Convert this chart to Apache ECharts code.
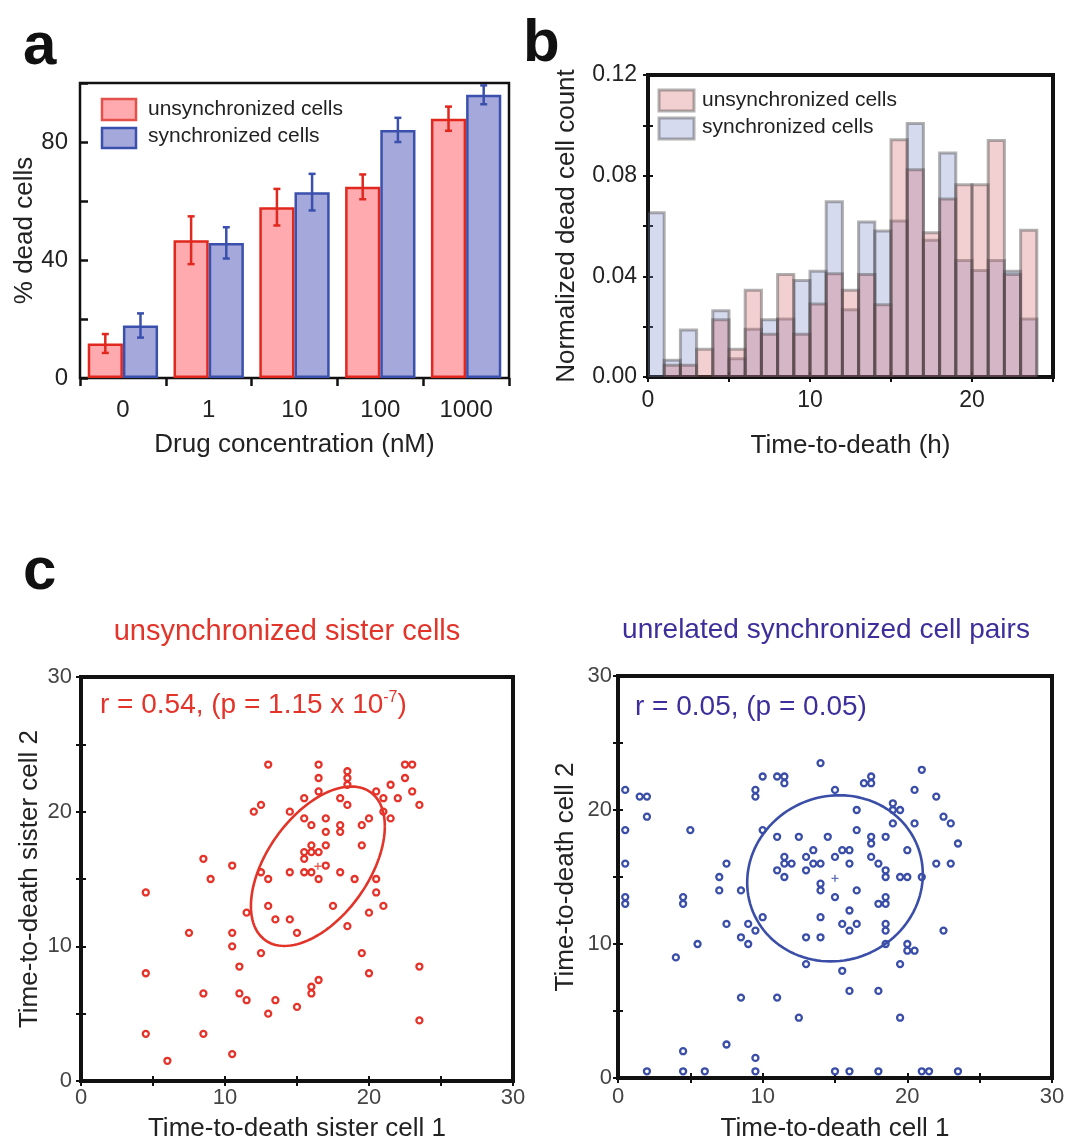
<!DOCTYPE html>
<html>
<head>
<meta charset="utf-8">
<script src="https://cdn.jsdelivr.net/npm/echarts@6/dist/echarts.min.js"></script>
<style>
  html, body { margin: 0; background: #fff; }
  #main { width: 1069px; height: 1141px; }
</style>
</head>
<body>
<div id="main"></div>
<script>
// ---- panel a: % dead cells vs drug concentration
const concentrations = ['0', '1', '10', '100', '1000'];
const unsyncDead = [11.7, 46.7, 57.9, 64.8, 87.9];
const unsyncErr = [3.2, 8.1, 6.2, 4.2, 4.1];
const syncDead = [17.8, 45.8, 63.0, 84.1, 96.0];
const syncErr = [4.1, 5.3, 6.2, 4.1, 3.2];

// ---- panel b: time-to-death histograms (1 h bins)
const binStarts = [0, 1, 2, 3, 4, 5, 6, 7, 8, 9, 10, 11, 12, 13, 14, 15, 16, 17, 18, 19, 20, 21, 22, 23];
const unsyncHist = [0, 0.0047, 0.0047, 0.011, 0.0227, 0.011, 0.0345, 0.017, 0.0407, 0.017, 0.029, 0.041,
  0.0345, 0.0407, 0.0287, 0.0943, 0.0824, 0.0573, 0.0707, 0.0764, 0.0764, 0.094, 0.0407, 0.0583];
const syncHist = [0.0653, 0.0067, 0.0187, 0, 0.0263, 0.0073, 0.019, 0.0227, 0.023, 0.0383, 0.042, 0.0696,
  0.0267, 0.0616, 0.058, 0.062, 0.1007, 0.0543, 0.089, 0.0463, 0.0423, 0.0463, 0.042, 0.023];

// ---- panel c: sister cells vs unrelated pairs
const sisterPairs = [
  [13, 23.5], [16.5, 23.5], [22.5, 23.5], [23, 23.5], [18.5, 23], [18.5, 22.5], [16.5, 22.5], [22.5, 22.5],
  [18.5, 22], [21.5, 22], [16.5, 21.5], [20.5, 21.5], [23, 21.5], [15.5, 21], [18, 21], [21, 21], [22, 21],
  [12.5, 20.5], [18.5, 20.5], [23.5, 20.5], [12, 20], [14.5, 20], [21, 20], [15.5, 19.5], [17, 19.5],
  [20, 19.5], [21.5, 19.5], [16, 19], [18, 19], [19.5, 19], [17, 18.5], [18, 18.5], [16, 17.5], [17, 17.5],
  [19.5, 17.5], [15.5, 17], [16, 17], [16.5, 17], [15.5, 16.5], [8.5, 16.5], [10.5, 16], [17, 16],
  [12.5, 15.5], [14.5, 15.5], [15.5, 15.5], [16, 15.5], [18, 15.5], [9, 15], [13, 15], [16.5, 15], [19, 15],
  [20.5, 15], [4.5, 14], [20.5, 14], [13, 13], [17.5, 13], [21, 13], [11.5, 12.5], [20, 12.5], [13.5, 12],
  [14.5, 12], [18.5, 11.5], [7.5, 11], [10.5, 11], [15, 11], [10.5, 10], [12.5, 9.5], [19.5, 9.5], [11, 8.5],
  [23.5, 8.5], [4.5, 8], [20, 8], [16.5, 7.5], [16, 7], [8.5, 6.5], [11, 6.5], [16, 6.5], [11.5, 6], [13.5, 6],
  [15, 5.5], [13, 5], [23.5, 4.5], [4.5, 3.5], [8.5, 3.5], [10.5, 2], [6, 1.5]
];
const unrelatedPairs = [
  [14, 23.5], [21, 23], [10, 22.5], [11, 22.5], [11.5, 22.5], [17.5, 22.5], [11.5, 22], [17, 22], [17.5, 22],
  [0.5, 21.5], [9.5, 21.5], [15, 21.5], [20.5, 21.5], [1.5, 21], [2, 21], [9.5, 21], [22, 21], [19, 20.5],
  [16.5, 20], [19, 20], [19.5, 20], [2, 19.5], [22.5, 19.5], [19, 19], [20.5, 19], [23, 19], [0.5, 18.5],
  [5, 18.5], [10, 18.5], [16.5, 18.5], [11, 18], [12.5, 18], [14.5, 18], [17.5, 18], [18.5, 18], [17.5, 17.5],
  [23.5, 17.5], [13.5, 17], [15.5, 17], [16, 17], [20, 17], [11.5, 16.5], [13, 16.5], [15, 16.5], [17.5, 16.5],
  [0.5, 16], [7.5, 16], [11.5, 16], [12, 16], [13.5, 16], [14, 16], [16, 16], [18, 16], [22, 16], [23, 16],
  [11, 15.5], [13, 15.5], [18.5, 15.5], [7, 15], [11.5, 15], [18.5, 15], [19.5, 15], [20, 15], [21, 15],
  [14, 14.5], [7, 14], [8.5, 14], [14, 14], [16.5, 14], [0.5, 13.5], [4.5, 13.5], [15, 13.5], [18.5, 13.5],
  [0.5, 13], [4.5, 13], [18, 13], [18.5, 13], [16, 12.5], [10, 12], [14, 12], [7.5, 11.5], [9, 11.5],
  [15.5, 11.5], [16.5, 11.5], [18.5, 11.5], [9.5, 11], [16, 11], [18.5, 11], [22.5, 11], [8.5, 10.5],
  [13, 10.5], [14, 10.5], [5.5, 10], [9, 10], [18.5, 10], [20, 10], [20, 9.5], [20.5, 9.5], [4, 9], [13, 8.5],
  [19.5, 8.5], [15.5, 8], [16, 6.5], [18, 6.5], [8.5, 6], [11, 6], [12.5, 4.5], [19.5, 4.5], [7.5, 2.5],
  [4.5, 2], [9.5, 1.5], [2, 0.5], [4.5, 0.5], [6, 0.5], [9.5, 0.5], [15, 0.5], [16, 0.5], [18, 0.5], [21, 0.5],
  [21.5, 0.5], [23.5, 0.5]
];
// covariance ellipses: centre, half-extent along x and y, correlation
const sisterCenter = [16.45, 15.95];
const sisterHalf = [4.65, 5.92];
const sisterRho = 0.5;
const unrelatedCenter = [15.0, 14.9];
const unrelatedHalf = [6.07, 6.2];
const unrelatedRho = 0.05;

const RED = '#e0281e';
const BLUE = '#3a50ac';
const TXT_RED = '#e3342a';
const TXT_BLUE = '#3d2f9b';
const FONT = '"Liberation Sans", Arial, Helvetica, sans-serif';

function ellipsePoints(c, half, rho) {
  const phi = Math.acos(rho);
  const pts = [];
  for (let k = 0; k <= 120; k++) {
    const t = (k / 120) * 2 * Math.PI;
    pts.push([c[0] + half[0] * Math.cos(t), c[1] + half[1] * Math.cos(t - phi)]);
  }
  return pts;
}

const chart = echarts.init(document.getElementById('main'), null, { renderer: 'canvas' });

const gapA = 0.18;
function errRender(side, color) {
  return function (params, api) {
    const i = api.value(0);
    const v = api.value(1);
    const e = api.value(2);
    const band = api.size([1, 0])[0];
    const off = side * band * (1 - gapA) / 4;
    const top = api.coord([i, v + e]);
    const bot = api.coord([i, v - e]);
    const x = top[0] + off;
    const st = { stroke: color, lineWidth: 2.5 };
    return {
      type: 'group',
      children: [
        { type: 'line', shape: { x1: x, y1: top[1], x2: x, y2: bot[1] }, style: st },
        { type: 'line', shape: { x1: x - 3.5, y1: top[1], x2: x + 3.5, y2: top[1] }, style: st },
        { type: 'line', shape: { x1: x - 3.5, y1: bot[1], x2: x + 3.5, y2: bot[1] }, style: st }
      ]
    };
  };
}

function histRender(fill) {
  return function (params, api) {
    const h = api.value(1);
    if (!h) return null;
    const x0 = api.value(0);
    const p0 = api.coord([x0, h]);
    const p1 = api.coord([x0 + 1, 0]);
    return {
      type: 'rect',
      shape: { x: p0[0], y: p0[1], width: p1[0] - p0[0], height: p1[1] - p0[1] },
      style: { fill: fill, stroke: 'rgba(60,60,60,0.4)', lineWidth: 3 }
    };
  };
}

const labelA = { fontFamily: FONT, fontSize: 24, color: '#222' };
const nameA = { fontFamily: FONT, fontSize: 26, color: '#222' };
const labelC = { fontFamily: FONT, fontSize: 22, color: '#444' };

function sideAxis(grid, pos, min, max, interval) {
  return {
    type: 'value', gridIndex: grid, position: pos, min: min, max: max, interval: interval,
    axisLine: { show: false }, splitLine: { show: false }, axisLabel: { show: false },
    axisTick: { show: true, inside: true, length: 5, lineStyle: { color: '#111', width: 2 } }
  };
}
function mainValueAxis(grid, pos, min, max, interval, fmt, name, gap, margin, label, fsName) {
  return {
    type: 'value', gridIndex: grid, position: pos, min: min, max: max, interval: interval,
    axisLine: { show: false }, splitLine: { show: false },
    axisTick: { show: true, inside: true, length: 5, lineStyle: { color: '#111', width: 2 } },
    axisLabel: Object.assign({ formatter: fmt, margin: margin, showMinLabel: true, showMaxLabel: true }, label),
    name: name, nameLocation: 'middle', nameGap: gap, nameTextStyle: fsName
  };
}
const tens = v => (Math.round(v) % 10 === 0 ? String(v) : '');

const option = {
  animation: false,
  backgroundColor: '#fff',
  textStyle: { fontFamily: FONT },
  grid: [
    { left: 80, top: 83, width: 429, height: 295, show: true, borderColor: '#111', borderWidth: 2.5, backgroundColor: 'transparent', outerBoundsMode: 'none' },
    { left: 648, top: 75, width: 405, height: 302, show: true, borderColor: '#111', borderWidth: 4, backgroundColor: 'transparent', outerBoundsMode: 'none' },
    { left: 81, top: 677, width: 432, height: 404, show: true, borderColor: '#111', borderWidth: 4, backgroundColor: 'transparent', outerBoundsMode: 'none' },
    { left: 618, top: 676, width: 434, height: 402, show: true, borderColor: '#111', borderWidth: 4, backgroundColor: 'transparent', outerBoundsMode: 'none' }
  ],
  xAxis: [
    {
      type: 'category', gridIndex: 0, data: concentrations,
      axisLine: { show: false },
      axisTick: { show: true, inside: false, length: 8, lineStyle: { color: '#111', width: 2.5 } },
      axisLabel: Object.assign({ margin: 20 }, labelA),
      name: 'Drug concentration (nM)', nameLocation: 'middle', nameGap: 54, nameTextStyle: nameA
    },
    mainValueAxis(1, 'bottom', 0, 25, 5, tens, 'Time-to-death (h)', 56, 12, Object.assign({}, labelA, { fontSize: 23 }), nameA),
    sideAxis(1, 'top', 0, 25, 5),
    mainValueAxis(2, 'bottom', 0, 30, 5, tens, 'Time-to-death sister cell 1', 35, 6, labelC, nameA),
    sideAxis(2, 'top', 0, 30, 5),
    mainValueAxis(3, 'bottom', 0, 30, 5, tens, 'Time-to-death cell 1', 38, 8, labelC, nameA),
    sideAxis(3, 'top', 0, 30, 5)
  ],
  yAxis: [
    {
      type: 'value', gridIndex: 0, min: 0, max: 100, interval: 20,
      axisLine: { show: false }, splitLine: { show: false },
      axisTick: { show: true, inside: true, length: 8, lineStyle: { color: '#111', width: 2.5 } },
      axisLabel: Object.assign({ margin: 12, formatter: v => (v % 40 === 0 && v < 100 ? String(v) : '') }, labelA),
      name: '% dead cells', nameLocation: 'middle', nameGap: 42, nameTextStyle: nameA
    },
    mainValueAxis(1, 'left', 0, 0.12, 0.02,
      v => (Math.round(v * 100) % 4 === 0 ? v.toFixed(2) : ''),
      'Normalized dead cell count', 68, 11, Object.assign({}, labelA, { fontSize: 23 }), nameA),
    sideAxis(1, 'right', 0, 0.12, 0.02),
    mainValueAxis(2, 'left', 0, 30, 5, tens, 'Time-to-death sister cell 2', 38, 9, labelC, nameA),
    sideAxis(2, 'right', 0, 30, 5),
    mainValueAxis(3, 'left', 0, 30, 5, tens, 'Time-to-death cell 2', 39, 6, labelC, nameA),
    sideAxis(3, 'right', 0, 30, 5)
  ],
  series: [
    // a
    {
      type: 'bar', name: 'unsynchronized cells', xAxisIndex: 0, yAxisIndex: 0, data: unsyncDead,
      barGap: '0%', barCategoryGap: '18%',
      itemStyle: { color: '#ffaaaf', borderColor: RED, borderWidth: 2.5 }
    },
    {
      type: 'bar', name: 'synchronized cells', xAxisIndex: 0, yAxisIndex: 0, data: syncDead,
      barGap: '0%', barCategoryGap: '18%',
      itemStyle: { color: '#a4a8db', borderColor: BLUE, borderWidth: 2.5 }
    },
    {
      type: 'custom', xAxisIndex: 0, yAxisIndex: 0, z: 5,
      data: unsyncDead.map((v, i) => [i, v, unsyncErr[i]]),
      renderItem: errRender(-1, RED)
    },
    {
      type: 'custom', xAxisIndex: 0, yAxisIndex: 0, z: 5,
      data: syncDead.map((v, i) => [i, v, syncErr[i]]),
      renderItem: errRender(1, BLUE)
    },
    // b
    {
      type: 'custom', xAxisIndex: 1, yAxisIndex: 1, clip: true,
      data: binStarts.map((b, i) => [b, syncHist[i]]),
      renderItem: histRender('rgba(118,132,198,0.3)')
    },
    {
      type: 'custom', xAxisIndex: 1, yAxisIndex: 1, clip: true,
      data: binStarts.map((b, i) => [b, unsyncHist[i]]),
      renderItem: histRender('rgba(212,98,105,0.3)')
    },
    // c left
    {
      type: 'scatter', xAxisIndex: 3, yAxisIndex: 3, data: sisterPairs, symbol: 'circle', symbolSize: 6,
      itemStyle: { color: '#fff', borderColor: '#e5332a', borderWidth: 2.3, opacity: 1 }
    },
    {
      type: 'line', xAxisIndex: 3, yAxisIndex: 3, data: ellipsePoints(sisterCenter, sisterHalf, sisterRho),
      showSymbol: false, smooth: false, lineStyle: { color: '#e3342a', width: 2.6 }, z: 3
    },
    {
      type: 'scatter', xAxisIndex: 3, yAxisIndex: 3, data: [sisterCenter], symbolSize: 7,
      symbol: 'path://M4,0H6V4H10V6H6V10H4V6H0V4H4Z', itemStyle: { color: '#e3342a' }
    },
    // c right
    {
      type: 'scatter', xAxisIndex: 5, yAxisIndex: 5, data: unrelatedPairs, symbol: 'circle', symbolSize: 6,
      itemStyle: { color: '#fff', borderColor: '#3a4ea8', borderWidth: 2.3, opacity: 1 }
    },
    {
      type: 'line', xAxisIndex: 5, yAxisIndex: 5, data: ellipsePoints(unrelatedCenter, unrelatedHalf, unrelatedRho),
      showSymbol: false, smooth: false, lineStyle: { color: '#3a4ea8', width: 2.6 }, z: 3
    },
    {
      type: 'scatter', xAxisIndex: 5, yAxisIndex: 5, data: [unrelatedCenter], symbolSize: 7,
      symbol: 'path://M4,0H6V4H10V6H6V10H4V6H0V4H4Z', itemStyle: { color: '#3a4ea8' }
    }
  ],
  graphic: [
    // panel letters
    { type: 'text', left: 23, top: 17, style: { text: 'a', font: 'bold 60px ' + FONT, fill: '#111' } },
    { type: 'text', left: 523, top: 14, style: { text: 'b', font: 'bold 60px ' + FONT, fill: '#111' } },
    { type: 'text', left: 23, top: 542, style: { text: 'c', font: 'bold 60px ' + FONT, fill: '#111' } },
    // legend a
    { type: 'rect', shape: { x: 102, y: 99, width: 34, height: 21 }, style: { fill: '#ffaaaf', stroke: '#e4504a', lineWidth: 2.5 } },
    { type: 'rect', shape: { x: 102, y: 128, width: 34, height: 20 }, style: { fill: '#a4a8db', stroke: BLUE, lineWidth: 2.5 } },
    { type: 'text', x: 148, y: 109, style: { text: 'unsynchronized cells', font: '21px ' + FONT, fill: '#222', verticalAlign: 'middle' } },
    { type: 'text', x: 148, y: 136, style: { text: 'synchronized cells', font: '21px ' + FONT, fill: '#222', verticalAlign: 'middle' } },
    // legend b
    { type: 'rect', shape: { x: 659, y: 90, width: 35, height: 21 }, style: { fill: 'rgba(212,98,105,0.3)', stroke: 'rgba(60,60,60,0.4)', lineWidth: 3 } },
    { type: 'rect', shape: { x: 659, y: 118, width: 35, height: 21 }, style: { fill: 'rgba(118,132,198,0.3)', stroke: 'rgba(60,60,60,0.4)', lineWidth: 3 } },
    { type: 'text', x: 702, y: 100, style: { text: 'unsynchronized cells', font: '21px ' + FONT, fill: '#222', verticalAlign: 'middle' } },
    { type: 'text', x: 702, y: 127, style: { text: 'synchronized cells', font: '21px ' + FONT, fill: '#222', verticalAlign: 'middle' } },
    // panel c titles
    { type: 'text', x: 287, y: 632, style: { text: 'unsynchronized sister cells', font: '29px ' + FONT, fill: TXT_RED, align: 'center', verticalAlign: 'middle' } },
    { type: 'text', x: 826, y: 630, style: { text: 'unrelated synchronized cell pairs', font: '28px ' + FONT, fill: TXT_BLUE, align: 'center', verticalAlign: 'middle' } },
    // correlation annotations
    {
      type: 'text', x: 100, y: 705, z: 10,
      style: {
        text: '{m|r = 0.54, (p = 1.15 x 10}{s|-7}{m|)}', verticalAlign: 'middle', fill: TXT_RED,
        rich: {
          m: { fontFamily: FONT, fontSize: 28, fill: TXT_RED, lineHeight: 30 },
          s: { fontFamily: FONT, fontSize: 16, fill: TXT_RED, lineHeight: 16, verticalAlign: 'top' }
        }
      }
    },
    { type: 'text', x: 635, y: 707, z: 10, style: { text: 'r = 0.05, (p = 0.05)', font: '28px ' + FONT, fill: TXT_BLUE, verticalAlign: 'middle' } }
  ]
};

chart.setOption(option);
</script>
</body>
</html>
